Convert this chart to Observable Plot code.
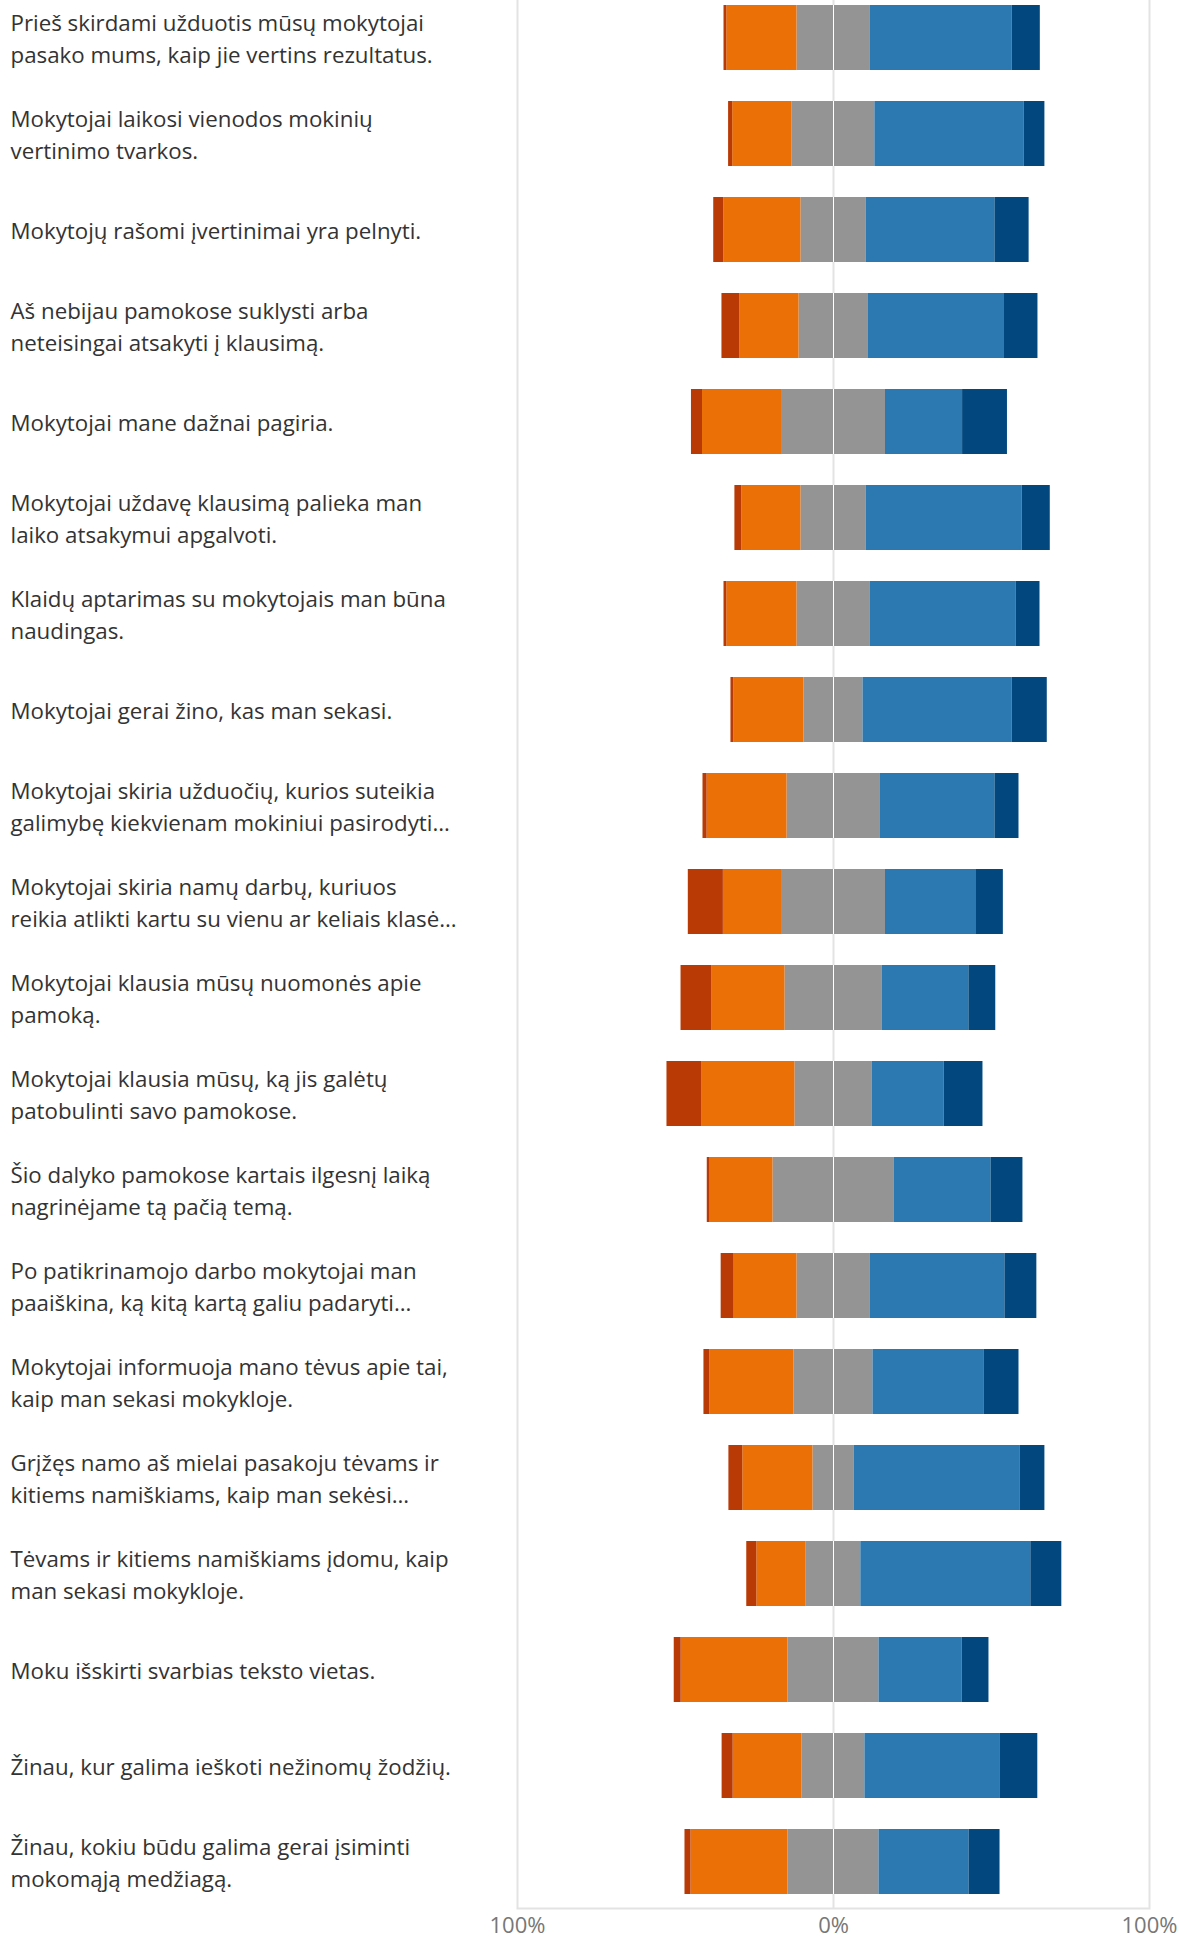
<!DOCTYPE html>
<html><head><meta charset="utf-8">
<script src="https://cdn.jsdelivr.net/npm/d3@7"></script>
<script src="https://cdn.jsdelivr.net/npm/@observablehq/plot@0.6"></script>
<style>
html,body{margin:0;padding:0;background:#fff;overflow:hidden;width:1179px;height:1939px;}
#chart{width:1179px;height:1939px;overflow:hidden;}
#chart svg{display:block;max-width:none !important;}
</style></head><body><div id="chart"></div>
<script>
const questions = [
  "Prieš skirdami užduotis mūsų mokytojai\npasako mums, kaip jie vertins rezultatus.",
  "Mokytojai laikosi vienodos mokinių\nvertinimo tvarkos.",
  "Mokytojų rašomi įvertinimai yra pelnyti.",
  "Aš nebijau pamokose suklysti arba\nneteisingai atsakyti į klausimą.",
  "Mokytojai mane dažnai pagiria.",
  "Mokytojai uždavę klausimą palieka man\nlaiko atsakymui apgalvoti.",
  "Klaidų aptarimas su mokytojais man būna\nnaudingas.",
  "Mokytojai gerai žino, kas man sekasi.",
  "Mokytojai skiria užduočių, kurios suteikia\ngalimybę kiekvienam mokiniui pasirodyti…",
  "Mokytojai skiria namų darbų, kuriuos\nreikia atlikti kartu su vienu ar keliais klasė…",
  "Mokytojai klausia mūsų nuomonės apie\npamoką.",
  "Mokytojai klausia mūsų, ką jis galėtų\npatobulinti savo pamokose.",
  "Šio dalyko pamokose kartais ilgesnį laiką\nnagrinėjame tą pačią temą.",
  "Po patikrinamojo darbo mokytojai man\npaaiškina, ką kitą kartą galiu padaryti…",
  "Mokytojai informuoja mano tėvus apie tai,\nkaip man sekasi mokykloje.",
  "Grįžęs namo aš mielai pasakoju tėvams ir\nkitiems namiškiams, kaip man sekėsi…",
  "Tėvams ir kitiems namiškiams įdomu, kaip\nman sekasi mokykloje.",
  "Moku išskirti svarbias teksto vietas.",
  "Žinau, kur galima ieškoti nežinomų žodžių.",
  "Žinau, kokiu būdu galima gerai įsiminti\nmokomąją medžiagą."
];
const stronglyDisagree = [0.9, 1.3, 3.2, 5.7, 3.5, 2.2, 0.9, 0.9, 1.3, 11.1, 9.8, 11.1, 0.9, 4.1, 1.9, 4.4, 3.2, 2.2, 3.5, 1.9];
const disagree         = [22.2, 18.8, 24.4, 18.7, 25.0, 18.7, 22.2, 22.2, 25.3, 18.4, 23.1, 29.4, 19.9, 19.9, 26.6, 22.2, 15.6, 33.8, 21.8, 30.7];
const neutral          = [23.1, 26.2, 20.6, 21.8, 32.9, 20.6, 23.1, 18.7, 29.4, 32.9, 30.7, 24.4, 38.3, 23.1, 25.0, 13.0, 17.3, 28.8, 19.9, 28.8];
const agree            = [45.0, 47.2, 40.8, 43.0, 24.4, 49.4, 46.2, 47.2, 36.4, 28.8, 27.5, 22.8, 30.7, 42.7, 35.1, 52.5, 53.8, 26.3, 42.7, 28.5];
const stronglyAgree    = [8.9, 6.6, 10.8, 10.8, 14.2, 8.9, 7.6, 11.1, 7.6, 8.5, 8.5, 12.3, 10.1, 10.1, 11.1, 7.9, 9.8, 8.5, 12.0, 9.8];
const categoryKeys   = ["sd", "d", "n", "a", "sa"];
const categoryColors = ["#BA3A05", "#EB7006", "#949494", "#2B79B0", "#02487F"];
const xTicks = [-100, 0, 100];

// diverging stack: neutral split around zero, negatives stack to the left
const table = [];
questions.forEach((q, i) => {
  table.push({q, cat: "n", v: -neutral[i] / 2});
  table.push({q, cat: "n", v: neutral[i] / 2});
  table.push({q, cat: "d", v: -disagree[i]});
  table.push({q, cat: "a", v: agree[i]});
  table.push({q, cat: "sd", v: -stronglyDisagree[i]});
  table.push({q, cat: "sa", v: stronglyAgree[i]});
});

const chart = Plot.plot({
  width: 1179,
  height: 1939,
  marginLeft: 517,
  marginRight: 30,
  marginTop: 0,
  marginBottom: 31,
  style: {fontFamily: "'Segoe UI', 'Open Sans', sans-serif", background: "#fff"},
  x: {domain: [-100, 100]},
  y: {domain: questions, range: [-10.5, 1909.5], round: false, paddingInner: 0.323, paddingOuter: 0.1615, axis: null},
  color: {domain: categoryKeys, range: categoryColors},
  marks: [
    Plot.frame({stroke: "#e3e3e3", strokeWidth: 2, insetTop: -20}),
    Plot.ruleX([0], {stroke: "#e3e3e3", strokeWidth: 2}),
    Plot.barX(table, {x: "v", y: "q", fill: "cat"}),
    Plot.tickX(questions, {x: () => 0, y: d => d, stroke: "white", strokeWidth: 1}),
    Plot.text(questions, {y: d => d, text: d => d, frameAnchor: "left", textAnchor: "start", dx: -507, dy: -1.5,
      lineAnchor: "middle", lineHeight: 1.45, fontSize: 22.3, fill: "#333"}),
    Plot.axisX({ticks: xTicks, tickFormat: d => Math.abs(d) + "%", tickSize: 0, tickPadding: 9,
      fontSize: 22, color: "#777", label: null})
  ]
});
document.getElementById("chart").appendChild(chart);
</script></body></html>
